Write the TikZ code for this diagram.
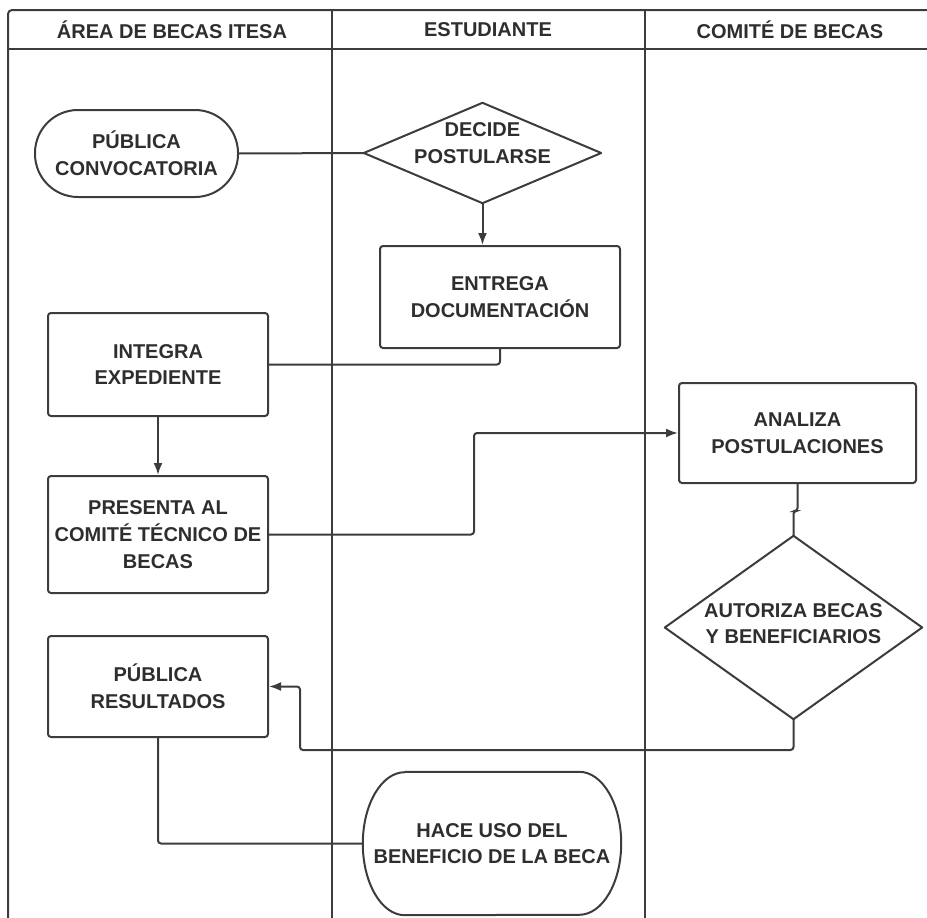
\documentclass[tikz,border=0pt]{standalone}
\usepackage{fontspec}
\setmainfont{Liberation Sans}
\usetikzlibrary{arrows.meta}
\definecolor{ln}{HTML}{3C3C3C}
\definecolor{tx}{HTML}{2E2E2E}
\begin{document}
\begin{tikzpicture}[x=1pt,y=-1pt,
  every node/.style={font=\fontsize{20}{26.7}\selectfont\bfseries, text=tx, align=center, inner sep=0pt},
  frame/.style={draw=ln, line width=2pt, line join=round},
  box/.style={frame, rounded corners=3pt, minimum width=220pt, minimum height=103pt},
  stad/.style={frame, rounded corners=43pt, minimum width=203pt, minimum height=87pt},
  diashape/.style={draw=none},
  conn/.style={draw=ln, line width=2pt, rounded corners=3pt},
  arr/.style={conn, -{Latex[length=12pt,width=9pt]}},
  hdr/.style={font=\fontsize{20}{22}\selectfont\bfseries}
]
\useasboundingbox (0,0) rectangle (927,918);

% lanes
\draw[frame, rounded corners=4pt] (8,918) -- (8,10) -- (927,10);
\draw[frame, line width=2.4pt] (8,49) -- (927,49);
\draw[frame] (332,10) -- (332,918);
\draw[frame] (645,10) -- (645,918);

\node[hdr] (h1) at (172,29.5) {ÁREA DE BECAS ITESA};
\node[hdr] (h2) at (488,29.5) {ESTUDIANTE};
\node[hdr] (h3) at (790,29.5) {COMITÉ DE BECAS};

% nodes
\node[stad] (conv) at (136.5,153.5) {PÚBLICA\\CONVOCATORIA};

\node[diashape, minimum width=237pt, minimum height=100pt] (dec) at (482.5,153) {};
\draw[frame] (dec.north) -- (dec.east) -- (dec.south) -- (dec.west) -- cycle;
\node (dect) at ([yshift=10pt]dec.center) {DECIDE\\POSTULARSE};

\node[box, minimum width=240pt, minimum height=102pt] (ent) at (500,297) {ENTREGA\\DOCUMENTACIÓN};
\node[box] (int) at (158,364.5) {INTEGRA\\EXPEDIENTE};
\node[box, minimum height=117pt] (pre) at (158,534.5) {PRESENTA AL\\COMITÉ TÉCNICO DE\\BECAS};
\node[box, minimum width=237pt, minimum height=100pt] (ana) at (797.5,433) {ANALIZA\\POSTULACIONES};

\node[diashape, minimum width=257pt, minimum height=183pt] (aut) at (793.5,627.5) {};
\draw[frame] (aut.north) -- (aut.east) -- (aut.south) -- (aut.west) -- cycle;
\node (autt) at ([yshift=4pt]aut.center) {AUTORIZA BECAS\\Y BENEFICIARIOS};

\node[box, minimum height=101pt] (res) at (158,686.5) {PÚBLICA\\RESULTADOS};

\node[minimum width=258pt, minimum height=143pt] (uso) at (492,843.5) {HACE USO DEL\\BENEFICIO DE LA BECA};
\draw[frame] ([xshift=42pt]uso.north west) -- ([xshift=-42pt]uso.north east)
  arc[start angle=90, end angle=-90, x radius=42pt, y radius=71.5pt]
  -- ([xshift=42pt]uso.south west)
  arc[start angle=270, end angle=90, x radius=42pt, y radius=71.5pt] -- cycle;

% connectors
\draw[conn] (conv.east) -- (dec.west);
\draw[arr] (dec.south) -- (dec.south |- ent.north);
\draw[conn] (ent.south) |- (int.east);
\draw[arr] (int.south) -- (pre.north);
\draw[arr] (pre.east) -- ++(205,0) |- (ana.west);
\draw[conn] (ana.south) -- ++(0,27) -| (aut.north);
\coordinate (k1) at (300,750);
\draw[arr] (aut.south) |- (k1) |- (res.east);
\draw[conn] (res.south) |- (uso.west);
\end{tikzpicture}
\end{document}
